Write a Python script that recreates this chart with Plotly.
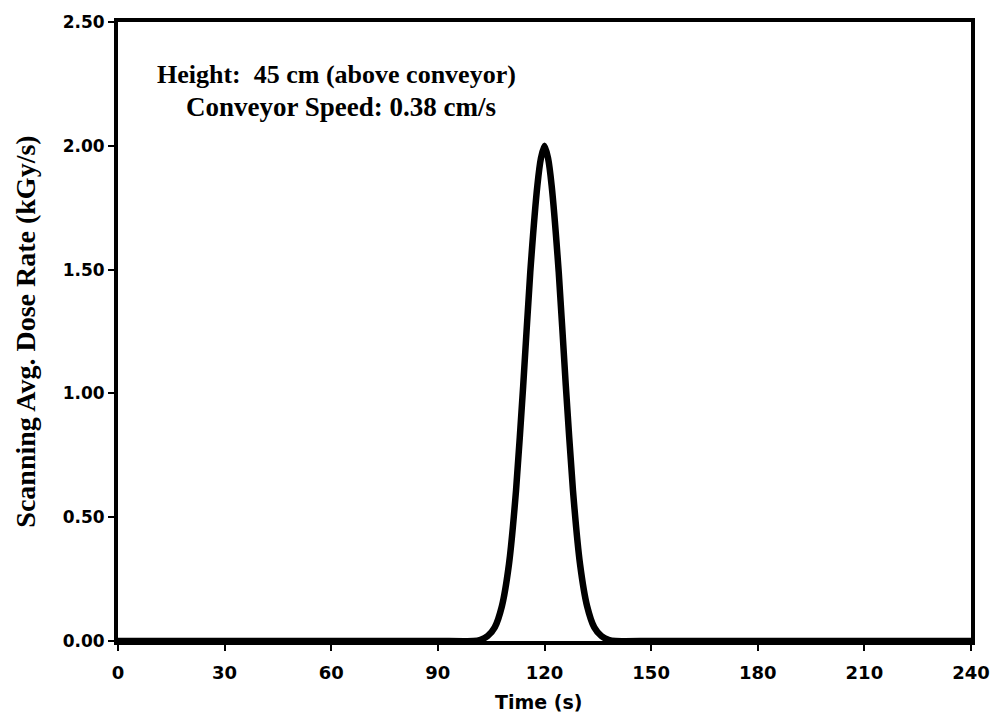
import plotly.graph_objects as go

# Data
time_s = [0, 30, 60, 90, 100, 102, 104, 106, 108, 110, 112, 114, 116, 118, 119, 120,
          121, 122, 124, 126, 128, 130, 132, 134, 136, 138, 140, 150, 180, 210, 240]
dose_rate = [0.0, 0.0, 0.0, 0.0, 0.0, 0.005, 0.02, 0.055, 0.14, 0.31, 0.61, 1.03, 1.49, 1.84, 1.95, 2.0,
             1.95, 1.84, 1.49, 1.03, 0.61, 0.31, 0.14, 0.055, 0.02, 0.005, 0.0, 0.0, 0.0, 0.0, 0.0]

x_ticks = [0, 30, 60, 90, 120, 150, 180, 210, 240]
y_ticks = [0.0, 0.5, 1.0, 1.5, 2.0, 2.5]

fig = go.Figure()
fig.add_trace(go.Scatter(x=time_s, y=dose_rate, mode="lines",
                         line=dict(color="black", width=6.5, shape="spline", smoothing=0.6),
                         showlegend=False))

tick_font = dict(family="DejaVu Sans", size=17, color="black", weight="bold")
xtick_font = dict(family="DejaVu Sans", size=18, color="black", weight="bold")
fig.update_layout(
    width=1002, height=717,
    margin=dict(l=118, r=26, t=19, b=76),
    paper_bgcolor="white", plot_bgcolor="white",
    xaxis=dict(range=[0, 240], tickvals=x_ticks, ticks="outside", ticklen=6, tickwidth=2,
               tickcolor="black", showline=True, linewidth=4, linecolor="black", mirror=True,
               showgrid=False, zeroline=False, tickfont=xtick_font, ticklabelstandoff=6),
    yaxis=dict(range=[0, 2.5], tickvals=y_ticks, tickformat=".2f", ticks="outside", ticklen=6,
               tickwidth=2, tickcolor="black", showline=True, linewidth=4, linecolor="black",
               mirror=True, showgrid=False, zeroline=False, tickfont=tick_font,
               title=dict(text="<b>Scanning Avg. Dose Rate (kGy/s)</b>",
                          font=dict(family="Liberation Serif", size=28, color="black"), standoff=20)),
    annotations=[
        dict(text="<b>Time (s)</b>", xref="paper", yref="paper",
             x=(541 - 118) / 858, y=(641 - 702) / 622, xanchor="center", yanchor="middle",
             showarrow=False, font=dict(family="DejaVu Sans", size=19, color="black")),
        dict(text="<b>Height:  45 cm (above conveyor)</b>", xref="paper", yref="paper",
             x=(155 - 118) / 858, y=(641 - 72) / 622, xanchor="left", yanchor="middle",
             showarrow=False, font=dict(family="Liberation Serif", size=26, color="black")),
        dict(text="<b>Conveyor Speed: 0.38 cm/s</b>", xref="paper", yref="paper",
             x=(184 - 118) / 858, y=(641 - 104) / 622, xanchor="left", yanchor="middle",
             showarrow=False, font=dict(family="Liberation Serif", size=27, color="black")),
    ],
)

fig.write_html("out.html")
